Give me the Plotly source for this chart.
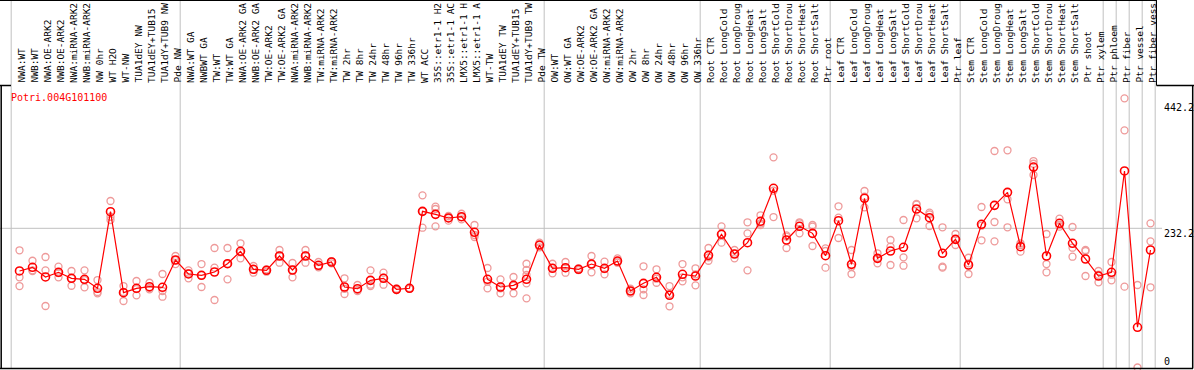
import plotly.graph_objects as go

gene = "Potri.004G101100"

categories = [
    "NWA:WT", "NWB:WT", "NWA:OE-ARK2", "NWB:OE-ARK2", "NWA:miRNA-ARK2", "NWB:miRNA-ARK2",
    "NW 0hr", "WT H2O", "WT-NW", "TUA1dEY NW", "TUA1dEY+TUB15", "TUA1dY+TUB9 NW", "Pde NW",
    "NWA:WT GA", "NWBWT GA", "TW:WT", "TW:WT GA", "NWA:OE-ARK2 GA", "NWB:OE-ARK2 GA",
    "TW:OE-ARK2", "TW:OE-ARK2 GA", "NWA:miRNA-ARK2", "NWB:miRNA-ARK2", "TW:miRNA-ARK2",
    "TW:miRNA-ARK2", "TW 2hr", "TW 8hr", "TW 24hr", "TW 48hr", "TW 96hr", "TW 336hr",
    "WT ACC", "35S::etr1-1 H2", "35S::etr1-1 AC", "LMX5::etr1-1 H", "LMX5::etr1-1 A",
    "WT-TW", "TUA1dEY TW", "TUA1dEY+TUB15", "TUA1dY+TUB9 TW", "Pde TW",
    "OW:WT", "OW:WT GA", "OW:OE-ARK2", "OW:OE-ARK2 GA", "OW:miRNA-ARK2", "OW:miRNA-ARK2",
    "OW 2hr", "OW 8hr", "OW 24hr", "OW 48hr", "OW 96hr", "OW 336hr",
    "Root CTR", "Root LongCold", "Root LongDroug", "Root LongHeat", "Root LongSalt",
    "Root ShortCold", "Root ShortDrou", "Root ShortHeat", "Root ShortSalt", "Ptr root",
    "Leaf CTR", "Leaf LongCold", "Leaf LongDroug", "Leaf LongHeat", "Leaf LongSalt",
    "Leaf ShortCold", "Leaf ShortDrou", "Leaf ShortHeat", "Leaf ShortSalt", "Ptr leaf",
    "Stem CTR", "Stem LongCold", "Stem LongDroug", "Stem LongHeat", "Stem LongSalt",
    "Stem ShortCold", "Stem ShortDrou", "Stem ShortHeat", "Stem ShortSalt", "Ptr shoot",
    "Ptr xylem", "Ptr phloem", "Ptr fiber", "Ptr vessel", "Ptr fiber vess",
]

# first category index of each group (separators drawn before them), plus the end
group_starts = [0, 13, 41, 53, 63, 73, 84, 85, 86, 87, 88]

mean_values = [
    161.0, 167.1, 151.0, 158.8, 148.8, 147.1, 132.1, 259.9, 124.8, 132.1, 134.8, 133.8, 179.3,
    156.0, 153.8, 159.3, 173.1, 193.8, 163.8, 162.1, 186.0, 162.6, 186.0, 170.5, 176.0,
    134.3, 131.4, 145.4, 148.8, 130.4, 132.1, 260.5, 255.5, 249.4, 251.5, 225.5,
    147.1, 134.3, 137.1, 147.1, 204.3,
    165.5, 166.5, 163.8, 172.6, 165.5, 177.6, 127.6, 140.4, 150.5, 120.4, 155.5, 152.6,
    187.1, 222.2, 189.3, 208.2, 243.9, 298.9, 212.7, 235.5, 223.8, 186.5,
    244.9, 172.1, 282.2, 182.1, 194.3, 200.5, 264.4, 249.9, 190.5, 213.8,
    171.0, 238.9, 270.5, 292.2, 201.5, 334.4, 186.0, 240.5, 207.2, 181.0, 152.6,
    158.8, 327.8, 67.1, 196.0,
]

replicates = [
    [195.5, 150.5, 135.9], [178.1, 162.1, 161.0], [184.3, 162.1, 102.6], [168.1, 157.6, 150.5],
    [161.0, 148.8, 136.4], [162.1, 145.9, 133.8], [145.9, 125.9, 123.8], [277.7, 251.5, 246.0],
    [135.9, 125.9, 110.9], [144.3, 130.9, 120.4], [141.4, 132.6, 130.4], [156.0, 127.6, 118.1],
    [186.0, 179.3, 172.6],
    [162.1, 156.8, 148.8], [172.6, 153.8, 134.3], [199.3, 166.5, 112.6], [199.3, 173.1, 147.1],
    [207.2, 192.2, 182.1], [169.3, 163.8, 158.1], [163.8, 162.1, 159.8], [196.0, 187.1, 174.8],
    [174.3, 162.6, 150.5], [196.0, 187.1, 174.8], [176.0, 168.1, 167.1], [177.6, 176.5, 173.8],
    [148.8, 131.4, 122.6], [137.6, 129.3, 127.6], [162.1, 138.1, 135.9], [158.1, 149.8, 138.1],
    [131.4, 130.4, 129.3], [132.6, 132.1, 131.4], [287.2, 260.5, 233.2], [268.2, 264.4, 235.5],
    [252.7, 249.4, 244.9], [256.5, 251.0, 247.2], [237.7, 221.0, 217.7], [166.0, 143.1, 132.1],
    [147.1, 132.1, 123.8], [151.0, 136.4, 123.8], [173.1, 162.6, 154.3, 140.4, 115.4],
    [208.2, 204.3, 200.5],
    [173.1, 166.0, 157.1], [176.0, 166.0, 158.1], [165.5, 163.8, 162.6], [186.0, 172.6, 158.8],
    [176.5, 164.3, 155.5], [182.1, 177.1, 174.8], [131.4, 127.6, 123.8], [168.8, 130.4, 120.9],
    [163.8, 148.1, 141.4], [135.9, 122.6, 102.1], [172.6, 150.5, 143.8], [165.5, 155.5, 137.1],
    [199.3, 183.8, 178.1], [235.5, 222.7, 208.2], [196.0, 189.8, 182.1], [242.2, 223.8, 162.1],
    [253.9, 240.2, 237.7], [350.6, 294.9, 251.0], [220.5, 218.2, 199.3], [242.2, 240.5, 223.8],
    [237.7, 234.9, 202.7], [198.8, 194.3, 166.5],
    [268.9, 249.9, 216.0], [196.0, 168.1, 156.0], [294.4, 284.9, 267.2], [190.5, 182.1, 173.8],
    [212.7, 201.5, 171.0], [246.0, 183.8, 169.8], [272.7, 271.6, 248.9], [258.2, 255.5, 236.0],
    [233.9, 168.1, 166.5], [222.7, 214.3, 204.3],
    [183.1, 173.8, 156.0], [267.7, 236.5, 212.2], [361.1, 242.7, 210.5], [362.3, 280.6, 233.9],
    [207.2, 204.3, 193.2], [344.4, 339.9, 321.1], [222.7, 172.6, 158.8], [248.2, 238.2, 234.9],
    [234.4, 199.8, 184.8], [196.0, 194.3, 152.6], [161.0, 154.8, 142.1],
    [176.0, 154.8, 145.4], [449.0, 395.6, 134.8], [137.6, 0.0], [240.5, 210.5, 133.8],
]

y_ticks = [0, 232.2, 442.2]
y_tick_text = ["0", "232.2", "442.2"]

# ---------------------------------------------------------------------------
W, H = 1194, 370
FONT = "DejaVu Sans Mono"
RED = "#ff0000"
PINK = "#ee9a9a"
GRID = "#c0c0c0"

# pixel geometry helpers (figure has no margins, so paper == pixels)
x_first_px, x_step_px = 19.5, 13.0
x_lo = -x_first_px / x_step_px
x_hi = (W - x_first_px) / x_step_px
zero_px, per_unit = 367.5, 0.5995          # y pixel of value 0, pixels per unit
y_hi = zero_px / per_unit
y_lo = (zero_px - H) / per_unit


def px(xp):
    return xp / W


def py(yp):
    return 1 - yp / H


fig = go.Figure()

rx, ry = [], []
for i, reps in enumerate(replicates):
    for v in reps:
        rx.append(i)
        ry.append(v)

fig.add_trace(go.Scatter(
    x=rx, y=ry, mode="markers",
    marker=dict(symbol="circle-open", size=7, color=PINK, line=dict(width=1.3, color=PINK)),
    hoverinfo="skip", showlegend=False,
))
fig.add_trace(go.Scatter(
    x=list(range(len(mean_values))), y=mean_values, mode="lines+markers",
    line=dict(color=RED, width=1.2),
    marker=dict(symbol="circle-open", size=8, color=RED, line=dict(width=1.6, color=RED)),
    showlegend=False,
))

shapes = []
# group separators, full height
for b in group_starts:
    xs = b - 0.64
    shapes.append(dict(type="line", xref="x", yref="paper", x0=xs, x1=xs,
                       y0=py(368), y1=1, line=dict(color=GRID, width=1), layer="below"))
# horizontal grid line at the middle tick
shapes.append(dict(type="line", xref="paper", yref="y", x0=0, x1=px(1162), y0=232.2, y1=232.2,
                   line=dict(color=GRID, width=1), layer="below"))
# black frame pieces
blk = dict(color="black", width=1.5)
shapes += [
    dict(type="line", xref="paper", yref="paper", x0=px(1.2), x1=px(1.2), y0=py(368.5), y1=py(85.5), line=blk),
    dict(type="line", xref="paper", yref="paper", x0=0, x1=px(1193), y0=py(368.5), y1=py(368.5), line=blk),
    dict(type="line", xref="paper", yref="paper", x0=px(1192.7), x1=px(1192.7), y0=py(368.5), y1=py(85.5), line=blk),
    dict(type="line", xref="paper", yref="paper", x0=0, x1=px(11), y0=py(85.5), y1=py(85.5), line=blk),
    dict(type="line", xref="paper", yref="paper", x0=px(1156.5), x1=1, y0=py(85.5), y1=py(85.5), line=blk),
    dict(type="line", xref="paper", yref="paper", x0=px(1156.5), x1=px(1156.5), y0=py(85.5), y1=1,
         line=dict(color="black", width=1)),
    dict(type="line", xref="paper", yref="paper", x0=0, x1=px(1156.5), y0=py(0.5), y1=py(0.5),
         line=dict(color="black", width=1)),
]

annotations = []
for i, lab in enumerate(categories):
    annotations.append(dict(
        x=i, xref="x", y=py(84), yref="paper", text=lab, textangle=-90,
        xanchor="center", yanchor="bottom", showarrow=False, xshift=1.5,
        font=dict(family=FONT, size=9.5, color="black"), borderpad=0,
    ))

annotations.append(dict(x=px(9.5), xref="paper", y=py(97), yref="paper", text=gene,
                        xanchor="left", yanchor="middle", showarrow=False,
                        font=dict(family=FONT, size=10, color=RED), borderpad=0))

for v, t in zip(y_ticks, y_tick_text):
    annotations.append(dict(x=px(1162.5), xref="paper", y=v, yref="y", text=t,
                            xanchor="left", yanchor="bottom" if v == 0 else "top",
                            showarrow=False, borderpad=0, yshift=0 if v == 0 else 1,
                            font=dict(family=FONT, size=10, color="black")))

fig.update_layout(
    width=W, height=H, autosize=False,
    margin=dict(l=0, r=0, t=0, b=0, pad=0),
    paper_bgcolor="white", plot_bgcolor="white",
    xaxis=dict(range=[x_lo, x_hi], showgrid=False, zeroline=False, showticklabels=False,
               showline=False, ticks=""),
    yaxis=dict(range=[y_lo, y_hi], showgrid=False, zeroline=False, showticklabels=False,
               showline=False, ticks=""),
    shapes=shapes, annotations=annotations, showlegend=False,
)

fig.write_html("out.html", config={"displayModeBar": False},
               post_script="document.body.style.margin='0';document.body.style.overflow='hidden';")
